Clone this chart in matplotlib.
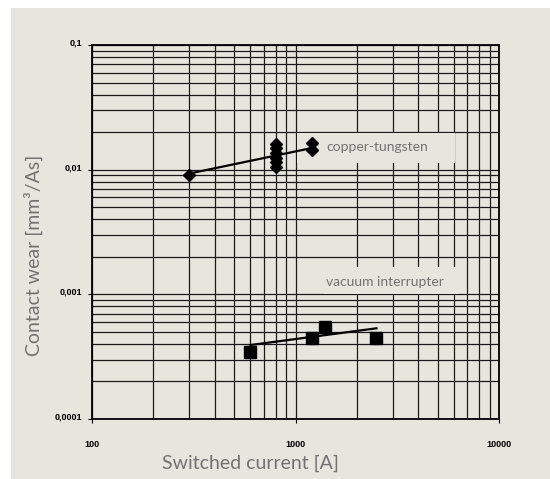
import numpy as np
import matplotlib.pyplot as plt
from matplotlib.patches import Rectangle
from matplotlib.transforms import ScaledTranslation

# copper-tungsten measurements
cu_x = [300, 800, 800, 800, 800, 800, 800, 1200, 1200]
cu_y = [0.0091, 0.0105, 0.0115, 0.0125, 0.0135, 0.0148, 0.0161, 0.0144, 0.0165]
cu_trend_x = [300, 1200]
cu_trend_y = [0.0093, 0.0149]

# vacuum interrupter measurements
vi_x = [600, 1200, 1400, 2500]
vi_y = [0.000346, 0.000449, 0.000543, 0.000449]
vi_trend_x = [600, 2500]
vi_trend_y = [0.000392, 0.000534]

x_ticks = [100, 1000, 10000]
x_tick_labels = ['100', '1000', '10000']
y_ticks = [0.0001, 0.001, 0.01, 0.1]
y_tick_labels = ['0,0001', '0,001', '0,01', '0,1']

bg = '#e6e6de'
txt_gray = '#727272'
W, H = 550, 479

fig = plt.figure(figsize=(5.5, 4.79), dpi=100, facecolor='white')
fig.patches.append(Rectangle((11/W, 0), 1, 1 - 8/H, transform=fig.transFigure,
                             facecolor=bg, edgecolor='none', zorder=-10))

ax = fig.add_axes([92/W, 1 - 419/H, 407/W, 374/H])
ax.set_facecolor(bg)
ax.set_xscale('log')
ax.set_yscale('log')
ax.set_xlim(100, 10000)
ax.set_ylim(0.0001, 0.1)

ax.grid(True, which='both', color='#1a1a1a', linewidth=0.9)
ax.set_axisbelow(True)
for s in ax.spines.values():
    s.set_linewidth(1.3)
    s.set_color('black')

ax.set_xticks(x_ticks)
ax.set_xticklabels(x_tick_labels)
ax.set_yticks(y_ticks)
ax.set_yticklabels(y_tick_labels)
ax.tick_params(which='minor', length=0)
ax.tick_params(which='major', length=3, width=0.8, direction='out', pad=12, labelsize=6.5)
ax.tick_params(axis='y', pad=4)
for lab in ax.get_xticklabels() + ax.get_yticklabels():
    lab.set_fontfamily('Liberation Sans')
    lab.set_fontweight('bold')
for lab in ax.get_yticklabels():
    lab.set_transform(lab.get_transform() + ScaledTranslation(0, 3/100, fig.dpi_scale_trans))

# label boxes hiding the grid (pixel boxes from the reference)
for (x0, y0, x1, y1) in [(297, 133, 455, 163), (324, 267, 459, 294)]:
    ax.add_patch(Rectangle((x0/W, 1 - y1/H), (x1 - x0)/W, (y1 - y0)/H,
                           transform=fig.transFigure, facecolor=bg, edgecolor='none',
                           zorder=2, clip_on=False))

ax.plot(cu_trend_x, cu_trend_y, color='black', linewidth=1.6, zorder=3)
ax.plot(cu_x, cu_y, linestyle='none', marker='D', markersize=6.5, color='black', zorder=4)
ax.plot(vi_trend_x, vi_trend_y, color='black', linewidth=1.6, zorder=3)
ax.plot(vi_x, vi_y, linestyle='none', marker='s', markersize=8.5, color='black', zorder=4)

ax.text(326/W, 1 - 147/H, 'copper-tungsten', fontsize=10, color=txt_gray,
        family='Lato', va='center', ha='left', transform=fig.transFigure, zorder=5)
ax.text(326/W, 1 - 282/H, 'vacuum interrupter', fontsize=10, color=txt_gray,
        family='Lato', va='center', ha='left', transform=fig.transFigure, zorder=5)

fig.text(250/W, 1 - 463/H, 'Switched current [A]', fontsize=14, color=txt_gray,
         family='Lato', ha='center', va='center')
fig.text(33/W, 1 - 255/H, 'Contact wear [mm³/As]', fontsize=14, color=txt_gray,
         family='Lato', ha='center', va='center', rotation=90)

fig.savefig('out.png', dpi=100, facecolor=fig.get_facecolor())
